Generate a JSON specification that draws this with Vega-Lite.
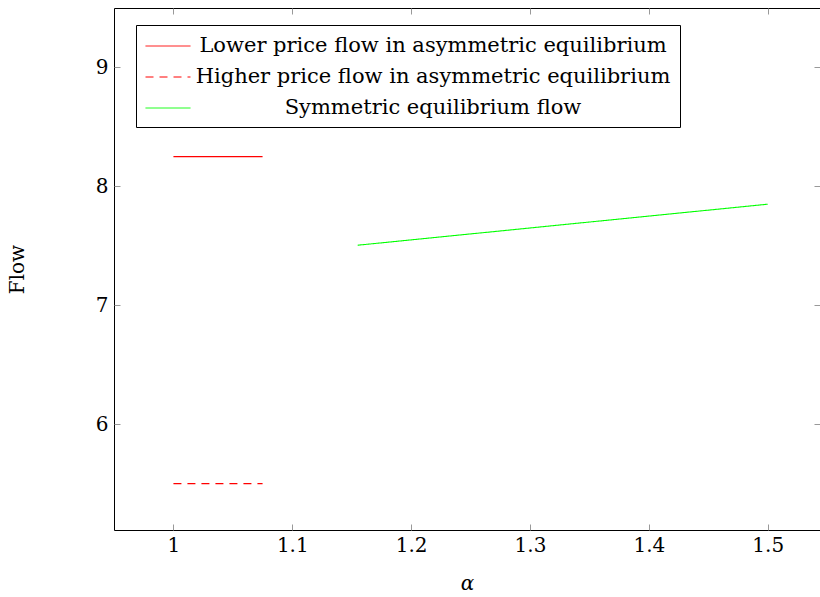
{
  "$schema": "https://vega.github.io/schema/vega-lite/v6.json",
  "autosize": "none",
  "padding": {"left": 114, "top": 8, "right": 0, "bottom": 67},
  "width": 706,
  "height": 522,
  "background": "white",
  "config": {
    "view": {"stroke": "black", "strokeWidth": 1},
    "font": "DejaVu Serif",
    "axis": {
      "grid": false,
      "domain": false,
      "tickColor": "#999999",
      "tickSize": -6,
      "labelFont": "DejaVu Serif",
      "labelFontSize": 20,
      "labelColor": "black",
      "titleFont": "DejaVu Serif",
      "titleFontSize": 20,
      "titleFontWeight": "normal",
      "titleColor": "black"
    }
  },
  "data": {
    "values": [
      {"series": "Lower price flow in asymmetric equilibrium", "alpha": 1.0, "flow": 8.25},
      {"series": "Lower price flow in asymmetric equilibrium", "alpha": 1.075, "flow": 8.25},
      {"series": "Higher price flow in asymmetric equilibrium", "alpha": 1.0, "flow": 5.5},
      {"series": "Higher price flow in asymmetric equilibrium", "alpha": 1.075, "flow": 5.5},
      {"series": "Symmetric equilibrium flow", "alpha": 1.155, "flow": 7.505},
      {"series": "Symmetric equilibrium flow", "alpha": 1.3, "flow": 7.65},
      {"series": "Symmetric equilibrium flow", "alpha": 1.5, "flow": 7.85}
    ]
  },
  "layer": [
    {
      "mark": {"type": "line", "strokeWidth": 1.1},
      "encoding": {
        "x": {
          "field": "alpha", "type": "quantitative",
          "scale": {"domain": [0.95, 1.544], "nice": false, "zero": false},
          "axis": {"orient": "bottom", "values": [1, 1.1, 1.2, 1.3, 1.4, 1.5], "format": "~g", "title": "α", "titleFontStyle": "italic", "labelPadding": 11, "titlePadding": 18}
        },
        "y": {
          "field": "flow", "type": "quantitative",
          "scale": {"domain": [5.11, 9.5], "nice": false, "zero": false},
          "axis": {"orient": "left", "values": [6, 7, 8, 9], "format": "d", "title": "Flow", "labelPadding": 12, "titlePadding": 68}
        },
        "color": {
          "field": "series", "type": "nominal",
          "scale": {
            "domain": ["Lower price flow in asymmetric equilibrium", "Higher price flow in asymmetric equilibrium", "Symmetric equilibrium flow"],
            "range": ["#ff0000", "#ff0000", "#00ff00"]
          },
          "legend": {
            "title": null,
            "orient": "none",
            "legendX": 22,
            "legendY": 17,
            "strokeColor": "black",
            "fillColor": "white",
            "padding": 9,
            "symbolType": "M-2,0H2",
            "symbolSize": 506,
            "symbolOffset": 11,
            "symbolStrokeWidth": 1,
            "labelFont": "DejaVu Serif",
            "labelFontSize": 21,
            "labelColor": "black",
            "labelLimit": 1000,
            "labelAlign": "center",
            "labelOffset": 253,
            "rowPadding": 9
          }
        },
        "strokeDash": {
          "field": "series", "type": "nominal",
          "scale": {
            "domain": ["Lower price flow in asymmetric equilibrium", "Higher price flow in asymmetric equilibrium", "Symmetric equilibrium flow"],
            "range": [[1, 0], [8, 6], [1, 0]]
          },
          "legend": {
            "title": null,
            "orient": "none",
            "legendX": 22,
            "legendY": 17
          }
        }
      }
    },
    {
      "mark": {"type": "rule", "opacity": 0},
      "encoding": {
        "x": {
          "field": "alpha", "type": "quantitative",
          "axis": {"orient": "top", "values": [1, 1.1, 1.2, 1.3, 1.4, 1.5], "labels": false, "title": null}
        },
        "y": {
          "field": "flow", "type": "quantitative",
          "axis": {"orient": "right", "values": [6, 7, 8, 9], "labels": false, "title": null}
        }
      }
    }
  ]
}
